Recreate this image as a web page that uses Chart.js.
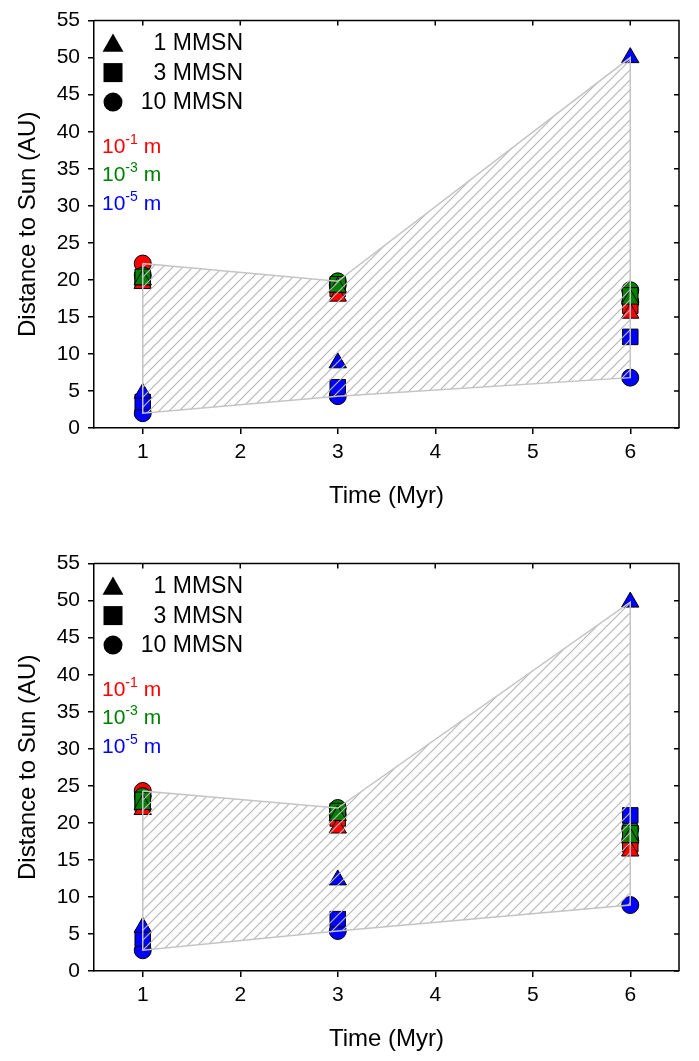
<!DOCTYPE html>
<html>
<head>
<meta charset="utf-8">
<script src="https://cdn.jsdelivr.net/npm/chart.js@4.4.1/dist/chart.umd.min.js"></script>
<style>
html, body { margin: 0; padding: 0; background: #fff; overflow: hidden; }
.panel { position: absolute; left: 0; width: 699px; height: 530px; }
#panelTop { top: 0; }
#panelBottom { top: 543px; }
</style>
</head>
<body>
<div class="panel" id="panelTop"><canvas id="chartTop" width="699" height="530"></canvas></div>
<div class="panel" id="panelBottom"><canvas id="chartBottom" width="699" height="530"></canvas></div>
<script>
const timesMyr = [1, 3, 6];
const xTicks = [1, 2, 3, 4, 5, 6];
const yTicks = [0, 5, 10, 15, 20, 25, 30, 35, 40, 45, 50, 55];
const gasLabels = ['1 MMSN', '3 MMSN', '10 MMSN'];
const gasShapes = ['triangle', 'rect', 'circle'];
const sizeExponents = ['-1', '-3', '-5'];
const sizeColors = ['#ff0000', '#008000', '#0000ff'];

// rows: 10^-1 m, 10^-3 m, 10^-5 m ; columns follow timesMyr
const upper1MMSN = [[19.5, 17.8, 15.5], [20.0, 19.0, 17.4], [4.7, 8.8, 50.0]];
const upper3MMSN = [[20.0, 18.8, 16.5], [20.4, 19.4, 17.9], [3.5, 5.5, 12.3]];
const upper10MMSN = [[22.2, 19.3, 17.0], [20.6, 19.8, 18.6], [2.0, 4.3, 6.8]];

const lower1MMSN = [[21.8, 19.3, 16.2], [22.5, 21.0, 18.0], [5.9, 12.3, 49.8]];
const lower3MMSN = [[22.6, 20.6, 17.1], [23.1, 21.6, 18.6], [4.4, 7.0, 21.0]];
const lower10MMSN = [[24.3, 21.1, 17.6], [23.6, 22.0, 19.2], [2.8, 5.4, 8.9]];

const markerRadius = { triangle: 10, rect: 11, circle: 8.5 };
const FONT = '"Liberation Sans", Arial, sans-serif';

const makeHatch = (ctx) => {
    const tile = document.createElement('canvas');
    tile.width = 10;
    tile.height = 10;
    const g = tile.getContext('2d');
    g.strokeStyle = '#b8b8b8';
    g.lineWidth = 1.2;
    g.beginPath();
    g.moveTo(-1, 11); g.lineTo(11, -1);
    g.moveTo(-6, 6); g.lineTo(6, -6);
    g.moveTo(4, 16); g.lineTo(16, 4);
    g.stroke();
    return ctx.createPattern(tile, 'repeat');
};

const envelope = (sets) => timesMyr.map((t, i) => {
    const values = sets.flatMap((rows) => rows.map((row) => row[i]));
    return { x: t, max: Math.max(...values), min: Math.min(...values) };
});

const drawShape = (ctx, shape, cx, cy, size) => {
    ctx.beginPath();
    if (shape === 'triangle') {
        ctx.moveTo(cx, cy - size * 0.5);
        ctx.lineTo(cx + size * 0.55, cy + size * 0.45);
        ctx.lineTo(cx - size * 0.55, cy + size * 0.45);
        ctx.closePath();
    } else if (shape === 'rect') {
        ctx.rect(cx - size / 2, cy - size / 2, size, size);
    } else {
        ctx.arc(cx, cy, size / 2, 0, Math.PI * 2);
    }
    ctx.fill();
};

const frameAndKey = {
    id: 'frameAndKey',
    afterDraw(chart) {
        const { ctx, chartArea: a, scales: { x, y } } = chart;
        ctx.save();
        ctx.strokeStyle = '#000';
        ctx.lineWidth = 1.5;
        ctx.beginPath();
        ctx.moveTo(a.left, a.top);
        ctx.lineTo(a.right, a.top);
        ctx.lineTo(a.right, a.bottom);
        xTicks.forEach((v) => {
            const px = x.getPixelForValue(v);
            ctx.moveTo(px, a.top);
            ctx.lineTo(px, a.top + 5);
        });
        yTicks.forEach((v) => {
            const py = y.getPixelForValue(v);
            ctx.moveTo(a.right, py);
            ctx.lineTo(a.right - 5, py);
        });
        ctx.stroke();

        ctx.fillStyle = '#000';
        ctx.textBaseline = 'middle';
        ctx.font = '23px ' + FONT;
        const keyRows = [22.5, 52, 81.5];
        gasShapes.forEach((shape, i) => {
            drawShape(ctx, shape, a.left + 19, a.top + keyRows[i], 19);
            ctx.textAlign = 'right';
            ctx.fillText(gasLabels[i], a.left + 149, a.top + keyRows[i] + 1);
        });

        ctx.textAlign = 'left';
        const sizeRows = [126.5, 155, 183.5];
        sizeExponents.forEach((exp, i) => {
            let cx = a.left + 8;
            const cy = a.top + sizeRows[i];
            ctx.fillStyle = sizeColors[i];
            ctx.font = '21px ' + FONT;
            ctx.fillText('10', cx, cy);
            cx += ctx.measureText('10').width;
            ctx.font = '14px ' + FONT;
            ctx.fillText(exp, cx, cy - 7);
            cx += ctx.measureText(exp).width;
            ctx.font = '21px ' + FONT;
            ctx.fillText(' m', cx, cy);
        });
        ctx.restore();
    }
};

const buildChart = (canvasId, gasSets) => {
    const canvas = document.getElementById(canvasId);
    const hatch = makeHatch(canvas.getContext('2d'));
    const env = envelope(gasSets);
    const outline = env.map((p) => ({ x: p.x, y: p.max }))
        .concat(env.slice().reverse().map((p) => ({ x: p.x, y: p.min })));
    outline.push(outline[0]);

    const datasets = [
        {
            data: outline,
            showLine: true,
            borderColor: '#c4c4c4',
            borderWidth: 1.5,
            pointRadius: 0,
            fill: false,
            tension: 0
        },
        {
            data: env.map((p) => ({ x: p.x, y: p.max })),
            showLine: true,
            borderWidth: 0,
            borderColor: 'rgba(0,0,0,0)',
            pointRadius: 0,
            backgroundColor: hatch,
            fill: '+1',
            tension: 0
        },
        {
            data: env.map((p) => ({ x: p.x, y: p.min })),
            showLine: true,
            borderWidth: 0,
            borderColor: 'rgba(0,0,0,0)',
            pointRadius: 0,
            fill: false,
            tension: 0
        }
    ];

    // first datasets are painted last, so blue ends up on top
    [2, 1, 0].forEach((sizeIndex) => {
        gasSets.forEach((rows, gasIndex) => {
            const shape = gasShapes[gasIndex];
            datasets.push({
                data: timesMyr.map((t, i) => ({ x: t, y: rows[sizeIndex][i] })),
                showLine: false,
                pointStyle: shape,
                pointRadius: markerRadius[shape],
                pointBackgroundColor: sizeColors[sizeIndex],
                pointBorderColor: '#000',
                pointBorderWidth: 1,
                fill: false
            });
        });
    });

    return new Chart(canvas, {
        type: 'line',
        data: { datasets },
        plugins: [frameAndKey],
        options: {
            responsive: false,
            animation: false,
            clip: false,
            layout: { padding: { top: 14, right: 20, left: 0, bottom: 0 } },
            plugins: { legend: { display: false }, tooltip: { enabled: false } },
            scales: {
                x: {
                    type: 'linear',
                    min: 0.5,
                    max: 6.5,
                    afterBuildTicks: (s) => { s.ticks = xTicks.map((v) => ({ value: v })); },
                    afterFit: (s) => { s.height = 102; },
                    border: { color: '#000', width: 1.5 },
                    grid: { drawOnChartArea: false, color: '#000', tickLength: 6, lineWidth: 1.5 },
                    ticks: { color: '#000', padding: 6, font: { family: FONT, size: 21 } },
                    title: {
                        display: true,
                        text: 'Time (Myr)',
                        color: '#000',
                        padding: { top: 0, bottom: 19 },
                        font: { family: FONT, size: 24 }
                    }
                },
                y: {
                    min: 0,
                    max: 55,
                    afterBuildTicks: (s) => { s.ticks = yTicks.map((v) => ({ value: v })); },
                    afterFit: (s) => { s.width = 94; },
                    border: { color: '#000', width: 1.5 },
                    grid: { drawOnChartArea: false, color: '#000', tickLength: 6, lineWidth: 1.5 },
                    ticks: { color: '#000', padding: 8, font: { family: FONT, size: 21 } },
                    title: {
                        display: true,
                        text: 'Distance to Sun (AU)',
                        color: '#000',
                        padding: { top: 14, bottom: 0 },
                        font: { family: FONT, size: 24 }
                    }
                }
            }
        }
    });
};

buildChart('chartTop', [upper1MMSN, upper3MMSN, upper10MMSN]);
buildChart('chartBottom', [lower1MMSN, lower3MMSN, lower10MMSN]);
</script>
</body>
</html>
